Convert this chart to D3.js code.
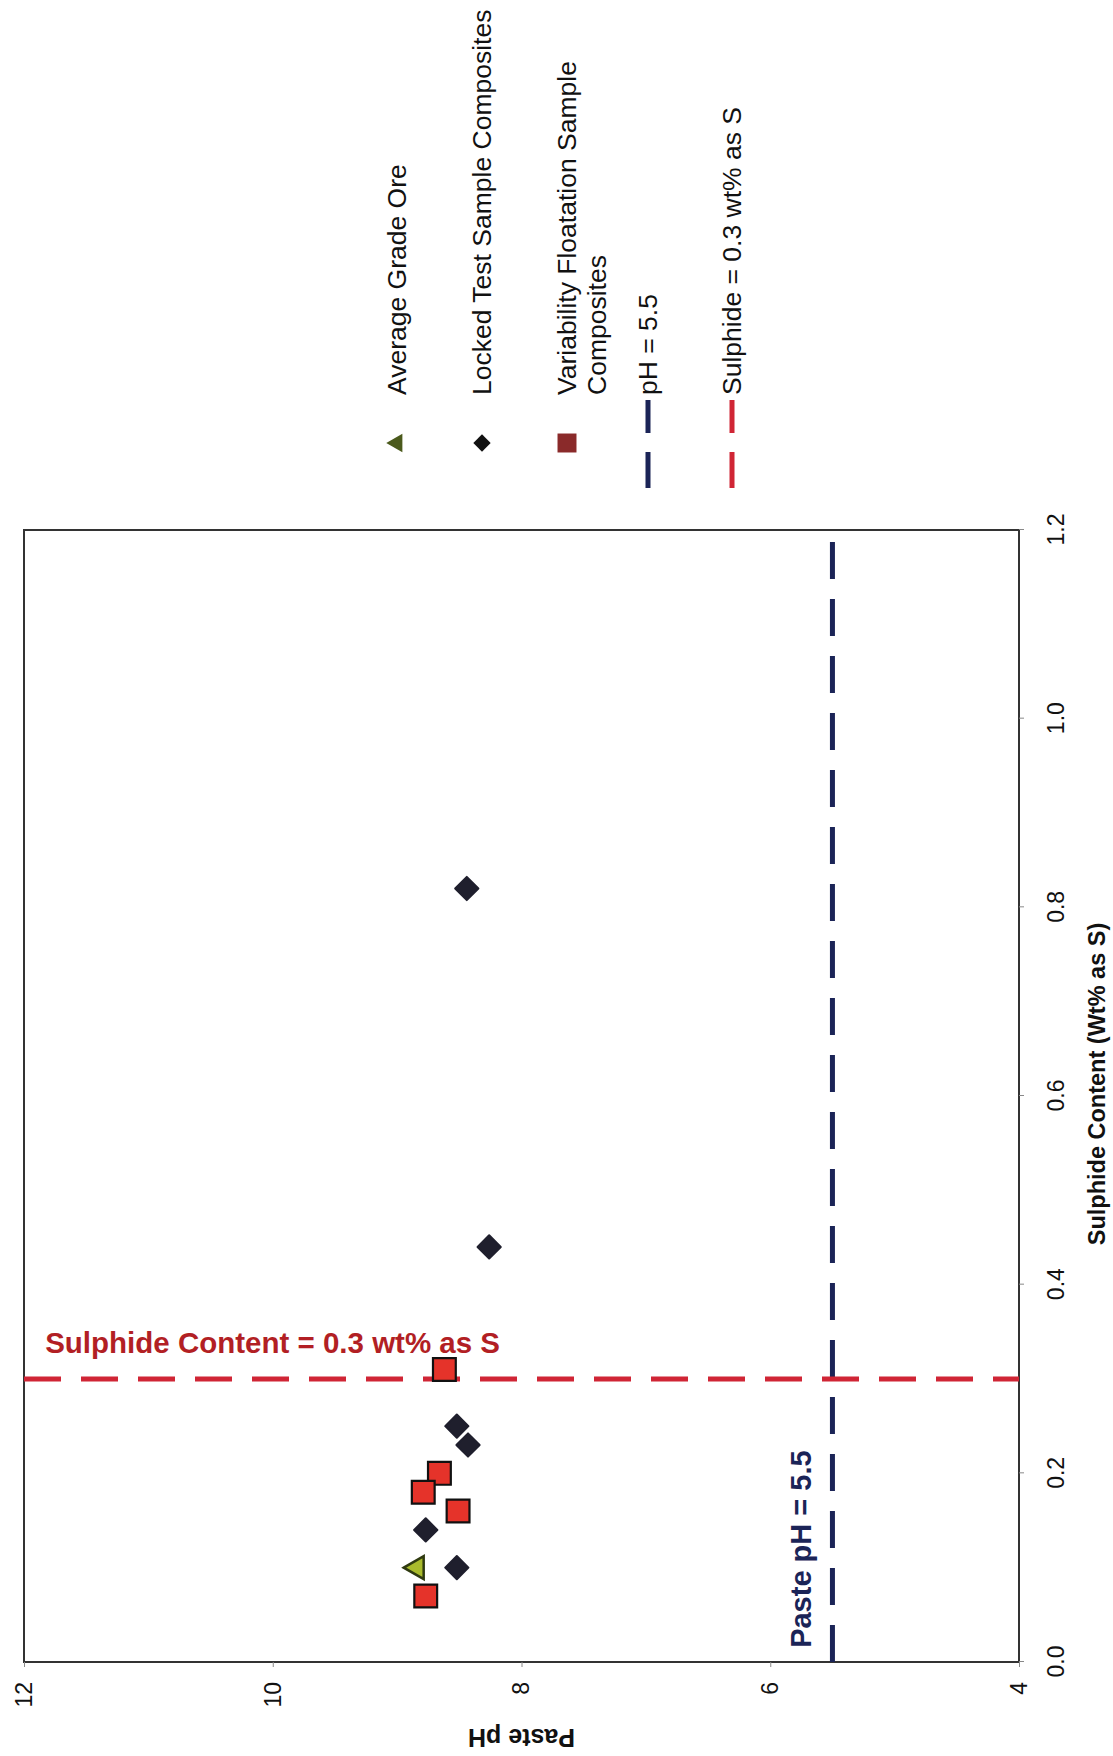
<!DOCTYPE html>
<html>
<head>
<meta charset="utf-8">
<script src="https://cdn.jsdelivr.net/npm/d3@7"></script>
<style>
  html, body { margin: 0; padding: 0; background: #fff; }
  svg { display: block; font-family: "Liberation Sans", Arial, sans-serif; }
</style>
</head>
<body>
<svg id="chart" width="1113" height="1756"></svg>
<script>
// ---- data ----
const xTicks = [0.0, 0.2, 0.4, 0.6, 0.8, 1.0, 1.2];
const yTicks = [4, 6, 8, 10, 12];
const avgGradeS  = [0.10];
const avgGradePH = [8.84];
const lockedS  = [0.82, 0.44, 0.25, 0.23, 0.14, 0.10];
const lockedPH = [8.44, 8.26, 8.52, 8.43, 8.77, 8.52];
const variabilityS  = [0.31, 0.20, 0.18, 0.16, 0.07];
const variabilityPH = [8.62, 8.66, 8.79, 8.51, 8.77];
const phLimit = 5.5;
const sulphideLimit = 0.3;
const xTitle = "Sulphide Content (Wt% as S)";
const yTitle = "Paste pH";
const legendLabels = ["Average Grade Ore", "Locked Test Sample Composites",
  ["Variability Floatation Sample", "Composites"], "pH = 5.5", "Sulphide = 0.3 wt% as S"];
const sulphideNote = "Sulphide Content = 0.3 wt% as S";
const phNote = "Paste pH = 5.5";

// ---- layout (chart drawn in an unrotated frame, then rotated -90deg) ----
const PAGE_H = 1756;
const svg = d3.select("#chart");
const g = svg.append("g").attr("transform", `translate(0,${PAGE_H}) rotate(-90)`);

const x = d3.scaleLinear().domain([0, 1.2]).range([94, 1226]);   // u in rotated frame
const y = d3.scaleLinear().domain([4, 12]).range([1019, 24]);     // v in rotated frame

const NAVY = "#1b2457", RED = "#d02535", NOTE_RED = "#b21f24";

// frame
g.append("rect")
  .attr("x", x(0)).attr("y", y(12))
  .attr("width", x(1.2) - x(0)).attr("height", y(4) - y(12))
  .attr("fill", "none").attr("stroke", "#333").attr("stroke-width", 2);

// x axis (sulphide) — appears on the right of the page
const xAxis = g.append("g").attr("transform", `translate(0,${y(4)})`)
  .call(d3.axisBottom(x).tickValues(xTicks).tickFormat(d3.format(".1f"))
    .tickSize(5).tickSizeOuter(0).tickPadding(24));
xAxis.select(".domain").remove();
xAxis.selectAll("line").attr("stroke", "#888");
xAxis.selectAll("text").attr("font-size", 23).attr("fill", "#111")
  .attr("font-family", "'Liberation Sans', Arial, sans-serif");

// y axis (pH) — appears at the bottom of the page
const yAxis = g.append("g").attr("transform", `translate(${x(0)},0)`)
  .call(d3.axisLeft(y).tickValues(yTicks).tickFormat(d3.format("d"))
    .tickSize(5).tickSizeOuter(0).tickPadding(15));
yAxis.select(".domain").remove();
yAxis.selectAll("line").attr("stroke", "#888");
yAxis.selectAll("text").attr("font-size", 23).attr("fill", "#111")
  .attr("font-family", "'Liberation Sans', Arial, sans-serif");

// axis titles
g.append("text")
  .attr("x", 672).attr("y", 1097).attr("dy", "0.35em")
  .attr("text-anchor", "middle").attr("font-weight", "bold").attr("font-size", 23.5)
  .attr("fill", "#111").text(xTitle);
g.append("text")
  .attr("transform", `translate(18,${(y(12) + y(4)) / 2}) rotate(-90)`)
  .attr("dy", "0.35em").attr("text-anchor", "middle")
  .attr("font-weight", "bold").attr("font-size", 25).attr("fill", "#111").text(yTitle);

// reference lines
g.append("line")
  .attr("x1", x(0)).attr("x2", x(1.2)).attr("y1", y(phLimit)).attr("y2", y(phLimit))
  .attr("stroke", NAVY).attr("stroke-width", 5).attr("stroke-dasharray", "37,20");
g.append("line")
  .attr("x1", x(sulphideLimit)).attr("x2", x(sulphideLimit)).attr("y1", y(12)).attr("y2", y(4))
  .attr("stroke", RED).attr("stroke-width", 5).attr("stroke-dasharray", "37,20");

// notes
g.append("text")
  .attr("x", x(0.015)).attr("y", y(phLimit) - 21)
  .attr("font-weight", "bold").attr("font-size", 29).attr("fill", NAVY).text(phNote);
// red note reads horizontally on the page
g.append("text")
  .attr("transform", `translate(${x(0.328)},${y(11.83)}) rotate(90)`)
  .attr("font-weight", "bold").attr("font-size", 29.5).attr("fill", NOTE_RED).text(sulphideNote);

// points
const sq = d3.symbol().type(d3.symbolSquare);
const tri = d3.symbol().type(d3.symbolTriangle);

g.selectAll(".var").data(d3.zip(variabilityS, variabilityPH)).join("path")
  .attr("class", "var")
  .attr("transform", d => `translate(${x(d[0])},${y(d[1])})`)
  .attr("d", sq.size(520)())
  .attr("fill", "#e5332a").attr("stroke", "#111").attr("stroke-width", 2.2);

g.selectAll(".locked").data(d3.zip(lockedS, lockedPH)).join("path")
  .attr("class", "locked")
  .attr("transform", d => `translate(${x(d[0])},${y(d[1])}) rotate(45)`)
  .attr("d", sq.size(270)())
  .attr("fill", "#1f1f2d").attr("stroke", "#1f1f2d").attr("stroke-width", 2).attr("stroke-linejoin", "round");

g.selectAll(".avg").data(d3.zip(avgGradeS, avgGradePH)).join("path")
  .attr("class", "avg")
  .attr("transform", d => `translate(${x(d[0])},${y(d[1])})`)
  .attr("d", tri.size(230)())
  .attr("fill", "#a9bb2c").attr("stroke", "#2f3a10").attr("stroke-width", 2.5);

// legend (in rotated frame: u = along text, v = item row)
const legU = 1313, legTextU = 1361;
const legRows = [397, 482, 567, 648, 732];
const leg = g.append("g");
leg.append("path").attr("transform", `translate(${legU},${legRows[0]})`)
  .attr("d", tri.size(150)()).attr("fill", "#4b5a1c");
leg.append("path").attr("transform", `translate(${legU},${legRows[1]}) rotate(45)`)
  .attr("d", sq.size(150)()).attr("fill", "#111");
leg.append("path").attr("transform", `translate(${legU},${legRows[2]})`)
  .attr("d", sq.size(360)()).attr("fill", "#8a2a2a");
[[legRows[3], NAVY], [legRows[4], RED]].forEach(([v, c]) => {
  leg.append("line").attr("x1", legU - 45).attr("x2", legU + 43).attr("y1", v).attr("y2", v)
    .attr("stroke", c).attr("stroke-width", 5).attr("stroke-dasharray", "36,19");
});
legendLabels.forEach((lab, i) => {
  const t = leg.append("text").attr("x", legTextU).attr("y", legRows[i])
    .attr("dy", "0.35em").attr("font-size", 26.5).attr("fill", "#111");
  if (Array.isArray(lab)) {
    lab.forEach((l, j) => t.append("tspan").attr("x", legTextU).attr("dy", j === 0 ? "0.35em" : "1.12em").text(l));
  } else {
    t.text(lab);
  }
});
</script>
</body>
</html>
